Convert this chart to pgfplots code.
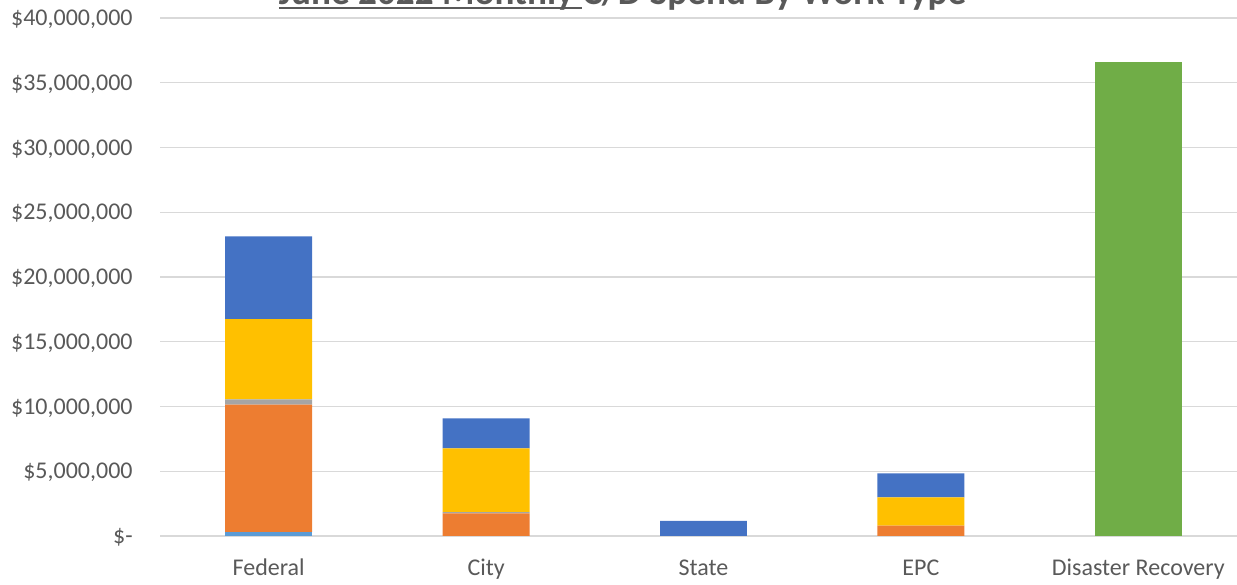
\documentclass[border=0pt]{standalone}
\usepackage{pgfplots}
\usepackage{pgfplotstable}
\pgfplotsset{compat=1.18}
\usepackage{fontspec}
\setmainfont{Carlito}

\definecolor{segLightBlue}{HTML}{5B9BD5}
\definecolor{segOrange}{HTML}{ED7D31}
\definecolor{segGray}{HTML}{A5A5A5}
\definecolor{segYellow}{HTML}{FFC000}
\definecolor{segBlue}{HTML}{4472C4}
\definecolor{segGreen}{HTML}{70AD47}
\definecolor{gridgray}{HTML}{D9D9D9}
\definecolor{labelgray}{HTML}{595959}

% underline that runs under the text plus its trailing space
\newcommand\ulword[1]{\setbox0=\hbox{#1}\rlap{\rule[-2.15pt]{\wd0}{1pt}}\box0}

% spend by work type (USD); columns stack bottom to top
\pgfplotstableread{
cat lblue  orange  gray    yellow  blue    green
0   0.30e6 9.84e6  0.41e6  6.20e6  6.39e6  0
1   0      1.75e6  0.10e6  4.92e6  2.32e6  0
2   0      0       0       0       1.16e6  0
3   0      0.80e6  0       2.19e6  1.85e6  0
4   0      0       0       0       0       36.6e6
}\spend

\begin{document}
\begin{tikzpicture}
\begin{axis}[
  name=ax,
  scale only axis,
  width=538.5pt, height=259pt,
  ybar stacked,
  bar width=0.4,
  xmin=-0.5, xmax=4.454,
  ymin=0, ymax=40000000,
  xtick={0,1,2,3,4},
  xticklabels={Federal,City,State,EPC,Disaster Recovery},
  ytick={0,5000000,10000000,15000000,20000000,25000000,30000000,35000000,40000000},
  yticklabels={{\$-\hspace{5.5pt}},{\$5,000,000},{\$10,000,000},{\$15,000,000},{\$20,000,000},{\$25,000,000},{\$30,000,000},{\$35,000,000},{\$40,000,000}},
  scaled y ticks=false,
  ymajorgrids,
  grid style={draw=gridgray, line width=0.6pt},
  axis x line*=bottom,
  axis y line*=left,
  y axis line style={draw=none},
  x axis line style={-, draw=gridgray, line width=1pt},
  tick style={draw=none},
  major tick length=0pt,
  tick label style={font=\fontsize{12}{14}\selectfont, text=labelgray, inner sep=0pt},
  yticklabel style={anchor=base east, xshift=-13.5pt, yshift=-3.8pt},
  xticklabel style={anchor=base, yshift=-20pt},
]
\addplot[fill=segLightBlue, draw=none] table[x=cat, y=lblue]  {\spend};
\addplot[fill=segOrange,    draw=none] table[x=cat, y=orange] {\spend};
\addplot[fill=segGray,      draw=none] table[x=cat, y=gray]   {\spend};
\addplot[fill=segYellow,    draw=none] table[x=cat, y=yellow] {\spend};
\addplot[fill=segBlue,      draw=none] table[x=cat, y=blue]   {\spend};
\addplot[fill=segGreen,     draw=none] table[x=cat, y=green]  {\spend};
\end{axis}

\node[anchor=base, inner sep=0pt, text=labelgray,
      font=\bfseries\fontsize{18.6}{22}\selectfont]
  at ([xshift=231.25pt, yshift=6.5pt]ax.north west)
  {\ulword{June 2022 Monthly }C/D Spend By Work Type};

\pgfresetboundingbox
\path[use as bounding box] ([xshift=-80pt, yshift=-24.5pt]ax.south west)
  rectangle ([yshift=9pt]ax.north east);
\end{tikzpicture}
\end{document}
